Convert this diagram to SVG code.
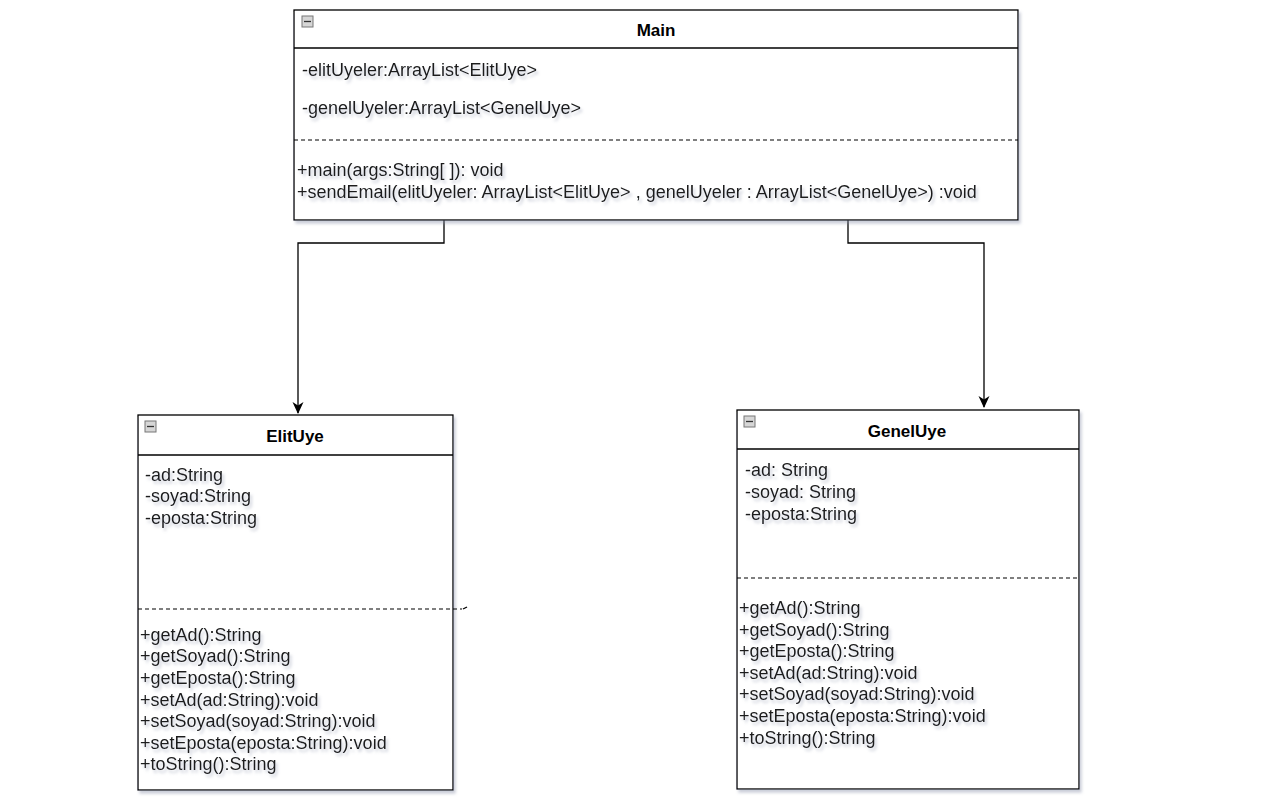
<svg xmlns="http://www.w3.org/2000/svg" width="1269" height="801" viewBox="0 0 1269 801">
<defs>
<filter id="sh" x="-10%" y="-20%" width="130%" height="160%">
<feGaussianBlur in="SourceAlpha" stdDeviation="1.8"/>
<feOffset dx="2" dy="3" result="b"/>
<feFlood flood-color="#8890a8" flood-opacity="0.45"/>
<feComposite in2="b" operator="in"/>
<feMerge><feMergeNode/><feMergeNode in="SourceGraphic"/></feMerge>
</filter>
<marker id="arr" viewBox="0 0 12 12" refX="11" refY="6" markerWidth="12" markerHeight="12" markerUnits="userSpaceOnUse" orient="auto">
<path d="M0,0.5 L12,6 L0,11.5 L3.5,6 Z" fill="#000"/>
</marker>
</defs>
<style>
.box{fill:#fff;stroke:#000;stroke-width:1.3}
.ln{stroke:#000;stroke-width:1.3;fill:none}
.dash{stroke:#000;stroke-width:1.2;stroke-dasharray:4 3;fill:none}
.t{font-family:"Liberation Sans",Arial,sans-serif;font-size:18px;fill:#1a1a1a}
.h{font-family:"Liberation Sans",Arial,sans-serif;font-size:17px;font-weight:bold;fill:#000;text-anchor:middle}
.ic{fill:#d6d6d6;stroke:#777;stroke-width:1}
</style>
<rect width="1269" height="801" fill="#fff"/>
<g id="connectors">
<path class="ln" d="M444,220 V243 H298 V413" marker-end="url(#arr)"/>
<path class="ln" d="M848,220 V243 H984 V407" marker-end="url(#arr)"/>
</g>
<g id="Main">
<rect class="box" x="294" y="10" width="724" height="210" filter="url(#sh)"/>
<line class="ln" x1="294" y1="48" x2="1018" y2="48"/>
<rect class="ic" x="302" y="16" width="11" height="11"/>
<line x1="304" y1="21.5" x2="311" y2="21.5" stroke="#333" stroke-width="1.3"/>
<text class="h" x="656" y="36">Main</text>
<g filter="url(#sh)">
<text class="t" x="302" y="76">-elitUyeler:ArrayList&lt;ElitUye&gt;</text>
<text class="t" x="302" y="114">-genelUyeler:ArrayList&lt;GenelUye&gt;</text>
<text class="t" x="297" y="176">+main(args:String[ ]): void</text>
<text class="t" x="297" y="198">+sendEmail(elitUyeler: ArrayList&lt;ElitUye&gt; , genelUyeler : ArrayList&lt;GenelUye&gt;) :void</text>
</g>
<line class="dash" x1="294" y1="140" x2="1018" y2="140"/>
</g>
<g id="ElitUye">
<rect class="box" x="138" y="415" width="315" height="375" filter="url(#sh)"/>
<line class="ln" x1="138" y1="455" x2="453" y2="455"/>
<rect class="ic" x="145" y="421" width="11" height="11"/>
<line x1="147" y1="426.5" x2="154" y2="426.5" stroke="#333" stroke-width="1.3"/>
<text class="h" x="295" y="442">ElitUye</text>
<g filter="url(#sh)">
<text class="t" x="145" y="481">-ad:String</text>
<text class="t" x="145" y="502">-soyad:String</text>
<text class="t" x="145" y="524">-eposta:String</text>
<text class="t" x="140" y="641">+getAd():String</text>
<text class="t" x="140" y="662">+getSoyad():String</text>
<text class="t" x="140" y="684">+getEposta():String</text>
<text class="t" x="140" y="706">+setAd(ad:String):void</text>
<text class="t" x="140" y="727">+setSoyad(soyad:String):void</text>
<text class="t" x="140" y="749">+setEposta(eposta:String):void</text>
<text class="t" x="140" y="770">+toString():String</text>
</g>
<line class="dash" x1="138" y1="609" x2="462" y2="609"/>
<line class="ln" x1="463" y1="609" x2="467" y2="607"/>
</g>
<g id="GenelUye">
<rect class="box" x="737" y="410" width="342" height="379" filter="url(#sh)"/>
<line class="ln" x1="737" y1="449" x2="1079" y2="449"/>
<rect class="ic" x="744" y="416" width="11" height="11"/>
<line x1="746" y1="421.5" x2="753" y2="421.5" stroke="#333" stroke-width="1.3"/>
<text class="h" x="907" y="437">GenelUye</text>
<g filter="url(#sh)">
<text class="t" x="745" y="476">-ad: String</text>
<text class="t" x="745" y="498">-soyad: String</text>
<text class="t" x="745" y="520">-eposta:String</text>
<text class="t" x="739" y="614">+getAd():String</text>
<text class="t" x="739" y="636">+getSoyad():String</text>
<text class="t" x="739" y="657">+getEposta():String</text>
<text class="t" x="739" y="679">+setAd(ad:String):void</text>
<text class="t" x="739" y="700">+setSoyad(soyad:String):void</text>
<text class="t" x="739" y="722">+setEposta(eposta:String):void</text>
<text class="t" x="739" y="744">+toString():String</text>
</g>
<line class="dash" x1="737" y1="578" x2="1079" y2="578"/>
</g>
</svg>
